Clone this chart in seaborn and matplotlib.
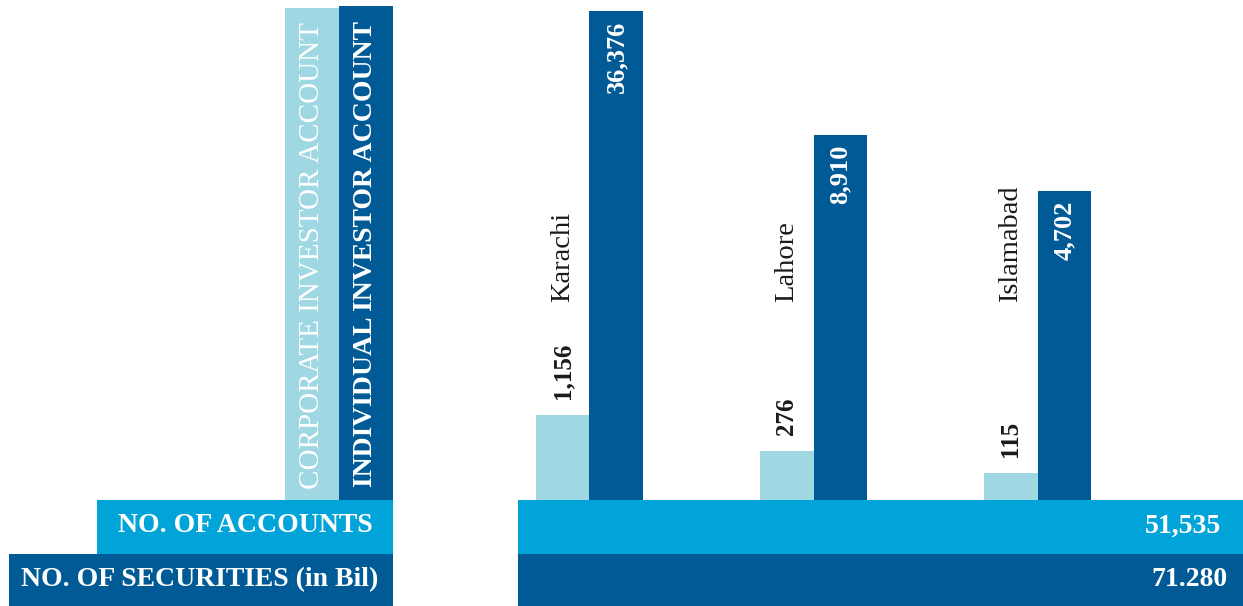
import pandas as pd
import matplotlib.pyplot as plt
import matplotlib.transforms as mtransforms
from matplotlib.colors import to_rgba
from matplotlib.patches import Rectangle
import seaborn as sns

# datos del grafico
cities = ["Karachi", "Lahore", "Islamabad"]
corporate = [1156, 276, 115]
individual = [36376, 8910, 4702]
securities_bil = "71.280"
account_types = ["Corporate", "Individual"]
legend_labels = ["CORPORATE INVESTOR ACCOUNT", "INDIVIDUAL INVESTOR ACCOUNT"]

total_accounts = sum(corporate) + sum(individual)

plt.rcParams['font.family'] = ['Liberation Serif', 'DejaVu Serif']

light = "#9fd8e3"
dark = "#005a96"
mid = "#00a4d8"
palette = {"Corporate": light, "Individual": dark}

df = pd.DataFrame({
    "city": cities * 2,
    "type": ["Corporate"] * 3 + ["Individual"] * 3,
    "value": corporate + individual,
})

W, H = 1243, 606
fig = plt.figure(figsize=(W / 100, H / 100), dpi=100)

# fondo con las bandas y la leyenda (coordenadas en pixeles)
bg = fig.add_axes([0, 0, 1, 1])
bg.set_xlim(0, W)
bg.set_ylim(H, 0)
bg.axis('off')

bg.add_patch(Rectangle((97, 500), 296, 54, color=mid, lw=0))
bg.add_patch(Rectangle((9, 554), 384, 52, color=dark, lw=0))
bg.add_patch(Rectangle((518, 500), 725, 54, color=mid, lw=0))
bg.add_patch(Rectangle((518, 554), 725, 52, color=dark, lw=0))
bg.add_patch(Rectangle((285, 8), 54, 492, color=light, lw=0))
bg.add_patch(Rectangle((339, 6), 54, 494, color=dark, lw=0))

bg.text(312, 489, legend_labels[0], rotation=90, ha='center', va='bottom',
        color='white', fontsize=21)
bg.text(366, 487, legend_labels[1], rotation=90, ha='center', va='bottom',
        color='white', fontsize=20, fontweight='bold')

bg.text(373, 526, "NO. OF ACCOUNTS", ha='right', va='center',
        color='white', fontsize=20, fontweight='bold')
bg.text(378, 580, "NO. OF SECURITIES (in Bil)", ha='right', va='center',
        color='white', fontsize=20, fontweight='bold')
bg.text(1221, 526, f"{total_accounts:,}", ha='right', va='center',
        color='white', fontsize=20, fontweight='bold')
bg.text(1228, 580, securities_bil, ha='right', va='center',
        color='white', fontsize=20, fontweight='bold')

# barras: cada serie en su propio eje logaritmico
ax = fig.add_axes([518 / W, 106 / H, 725 / W, 500 / H])
ax.patch.set_alpha(0)
ax2 = ax.twinx()

bw = 0.478
for a, keep in [(ax, "Corporate"), (ax2, "Individual")]:
    sns.barplot(data=df, x="city", y="value", hue="type",
                order=cities, hue_order=account_types, palette=palette,
                width=bw, gap=0, errorbar=None, legend=False, ax=a,
                saturation=1, linewidth=0)
    # en cada eje solo queda visible su serie
    for p in a.patches:
        if p.get_facecolor()[:3] != to_rgba(palette[keep])[:3]:
            p.set_visible(False)

ax.set_yscale('log')
ax2.set_yscale('log')
ax.set_ylim(38.6, 1.9e10)
ax2.set_ylim(141, 41000)
ax.set_xlim(-0.319, 2.917)
ax2.set_xlim(-0.319, 2.917)

blend = mtransforms.blended_transform_factory(ax.transData, ax.transAxes)
for i, city in enumerate(cities):
    xc = i - bw / 4
    xi = i + bw / 4
    ax.annotate(f"{corporate[i]:,}", xy=(xc, corporate[i]), xytext=(0, 11.5),
                textcoords='offset points', rotation=90, ha='center', va='bottom',
                fontsize=18, fontweight='bold', color='#1a1a1a')
    ax.text(xc, 0.396, city, transform=blend, rotation=90, ha='center',
            va='bottom', fontsize=20.5, color='#1a1a1a')
    ax2.annotate(f"{individual[i]:,}", xy=(xi, individual[i]), xytext=(0, -7),
                 textcoords='offset points', rotation=90, ha='center', va='top',
                 fontsize=19, fontweight='bold', color='white')

ax.axis('off')
ax2.axis('off')

fig.savefig("out.png", dpi=100)
